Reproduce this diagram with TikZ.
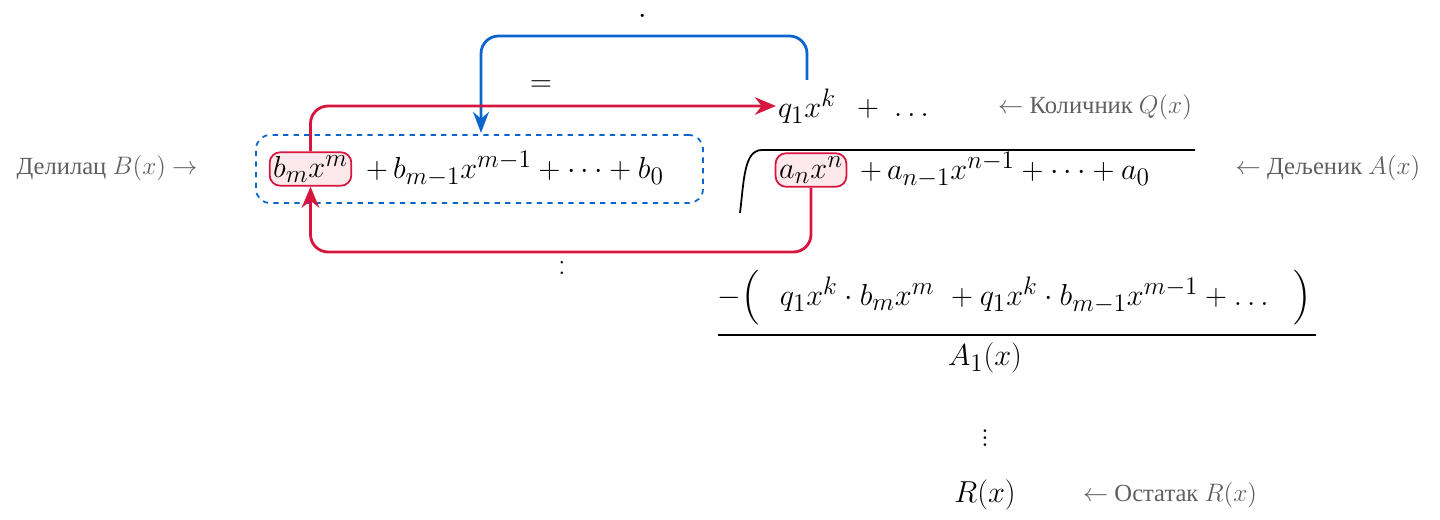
\documentclass[tikz,border=0pt]{standalone}
\usepackage{amsmath}
\usepackage{fontspec}
\newfontfamily\cyrfont{Liberation Serif}
\usetikzlibrary{arrows.meta,positioning}
\definecolor{redline}{RGB}{214,22,62}
\definecolor{pinkfill}{RGB}{253,232,236}
\definecolor{blueline}{RGB}{10,102,204}
\definecolor{labelgray}{RGB}{95,95,95}
\begin{document}
\begin{tikzpicture}[x=0.02cm,y=-0.02cm]
\tikzset{
  term/.style={font=\fontsize{19}{23}\selectfont, inner sep=1pt},
  lead/.style={term, draw=redline, fill=pinkfill, rounded corners=6pt, line width=1pt, inner sep=2pt},
  note/.style={font=\cyrfont\fontsize{14}{17}\selectfont, text=labelgray},
  redarr/.style={draw=redline, line width=1.6pt, rounded corners=10pt, -{Stealth[length=12pt,width=10pt]}},
  bluearr/.style={draw=blueline, line width=1.6pt, rounded corners=10pt, -{Stealth[length=12pt,width=9pt]}}
}
\useasboundingbox (0,0) rectangle (1440,520);
% divisor
\node[draw=blueline, dashed, line width=1pt, rounded corners=8pt, minimum width=447*0.02cm, minimum height=68*0.02cm] (divbox) at (479.5,169) {};
\node[lead] (bm) at (310.5,169) {$b_mx^m$};
\node[term, anchor=west] (brest) at (364,169) {$+\,b_{m-1}x^{m-1}+\cdots+b_0$};
% dividend
\node[lead] (an) at (811,170) {$a_nx^n$};
\node[term, anchor=west] (arest) at (858,170) {$+\,a_{n-1}x^{n-1}+\cdots+a_0$};
\draw[line width=1pt] (740,213) .. controls (744,180) and (744,150) .. (762,150) -- (1195,150);
% quotient
\node[term] (q1) at (807,106) {$q_1x^k$};
\node[term] (qrest) at (893,109) {$+\ \ldots$};
% operators
\node[term] (dotop) at (643,17) {$\cdot$};
\node[term] (eqop) at (541,86) {$=$};
\node[term] (colop) at (562,268) {$:$};
% arrows
\coordinate (q1b) at (807,80);
\coordinate (ant) at (481,133);
\draw[bluearr] (q1b) |- (643,36) -| (ant);
\draw[redarr] (bm.north) |- (q1.west);
\draw[redarr] (an.south) |- (562,252) -| (bm.south);
% product line
\node[term] (prod) at (1015,298) {$-\Big(\ \ q_1x^k\cdot b_mx^m\ +q_1x^k\cdot b_{m-1}x^{m-1}+\ldots\ \ \Big)$};
\draw[line width=1pt] (718,335) -- (1316,335);
\node[term] (a1) at (985,358) {$A_1(x)$};
\node[term] (vd) at (985,433) {$\vdots$};
\node[term] (rx) at (985,495) {$R(x)$};
% labels
\node[note] (lbl-b) at (107,168) {Делилац $B(x)$ $\rightarrow$};
\node[note] (lbl-a) at (1328,168) {$\leftarrow$ Дељеник $A(x)$};
\node[note] (lbl-q) at (1095,107) {$\leftarrow$ Количник $Q(x)$};
\node[note] (lbl-r) at (1170,495) {$\leftarrow$ Остатак $R(x)$};
\end{tikzpicture}
\end{document}
